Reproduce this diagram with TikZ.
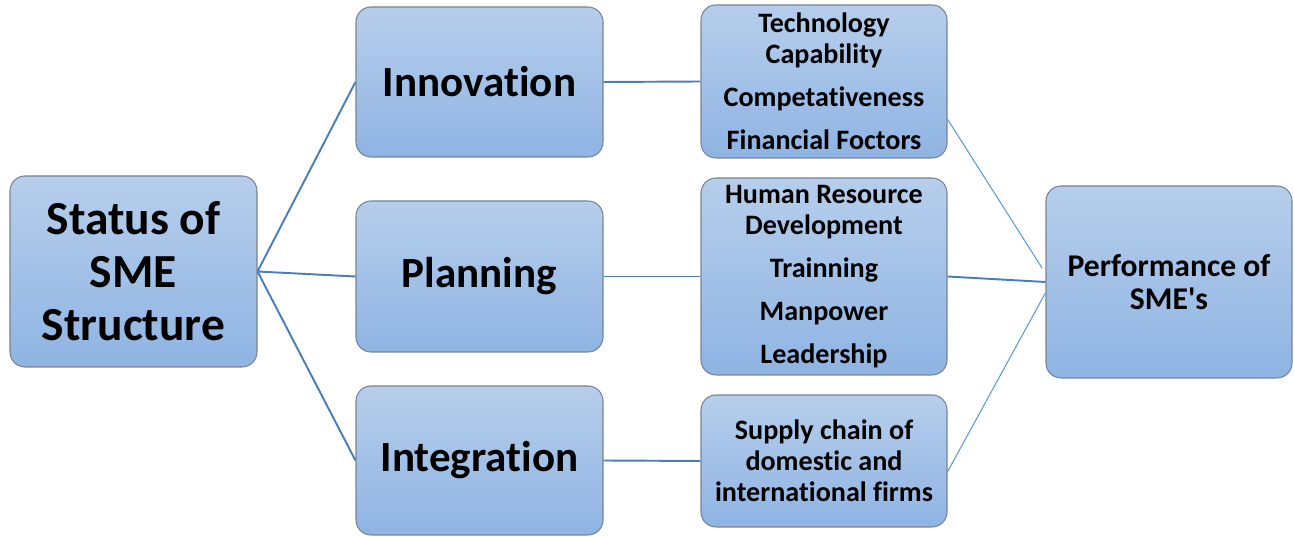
\documentclass[tikz,border=0pt]{standalone}
\usepackage{fontspec}
\setmainfont{Carlito}[Ligatures={NoCommon}]
\definecolor{boxtop}{RGB}{182,206,235}
\definecolor{boxbot}{RGB}{143,180,227}
\definecolor{boxline}{RGB}{118,132,150}
\definecolor{linkdark}{RGB}{74,126,187}
\definecolor{linklight}{RGB}{91,155,213}
\begin{document}
\begin{tikzpicture}[
    box/.style={draw=boxline, line width=0.6pt, rounded corners=0.3cm,
        top color=boxtop, bottom color=boxbot, align=center,
        font=\bfseries, inner sep=0pt},
    bigtxt/.style={font=\bfseries\fontsize{24.5}{30}\selectfont},
    smalltxt/.style={font=\bfseries\fontsize{16}{17.6}\selectfont},
    link/.style={draw=linkdark, line width=1.1pt},
    thinlink/.style={draw=linklight, line width=0.6pt}
  ]

    \useasboundingbox (0,0) rectangle (25.88,10.74);

    % Colonna di sinistra
    \node[box, font=\bfseries\fontsize{27}{30.2}\selectfont,
          minimum width=4.94cm, minimum height=3.82cm] (status) at (2.67,5.31)
        {Status of\\SME\\Structure};

    % Seconda colonna
    \node[box, bigtxt, minimum width=4.94cm, minimum height=3.00cm] (innov) at (9.59,9.10) {Innovation};
    \node[box, bigtxt, minimum width=4.94cm, minimum height=3.02cm] (plan)  at (9.59,5.21) {Planning};
    \node[box, bigtxt, minimum width=4.94cm, minimum height=2.98cm] (integ) at (9.59,1.53) {Integration};

    % Terza colonna
    \node[box, smalltxt, minimum width=4.92cm, minimum height=3.06cm] (tech) at (16.48,9.11)
        {Technology\\Capability\\[6.8pt]Competativeness\\[6.8pt]Financial Foctors};
    \node[box, smalltxt, minimum width=4.92cm, minimum height=3.94cm] (hr) at (16.48,5.21)
        {Human Resource\\Development\\[6.8pt]Trainning\\[6.8pt]Manpower\\[6.8pt]Leadership};
    \node[box, smalltxt, minimum width=4.92cm, minimum height=2.64cm] (supply) at (16.48,1.52)
        {Supply chain of\\domestic and\\international firms};

    % Risultato
    \node[box, font=\bfseries\fontsize{18}{18.8}\selectfont,
          minimum width=4.92cm, minimum height=3.84cm] (perf) at (23.38,5.10)
        {Performance of\\SME\textquotesingle s};

    % Collegamenti
    \draw[link] (status.east) -- (innov.west);
    \draw[link] (status.east) -- (plan.west);
    \draw[link] (status.east) -- (integ.west);

    \draw[link] (innov.east) -- (tech.west);
    \draw[link] (plan.east) -- (hr.west);
    \draw[link] (integ.east) -- (supply.west);

    \draw[thinlink, shorten >=0.12cm] (tech.-17) -- (perf.176);
    \draw[link] (hr.east) -- (perf.west);
    \draw[thinlink] (supply.-5) -- (perf.185);

\end{tikzpicture}
\end{document}
